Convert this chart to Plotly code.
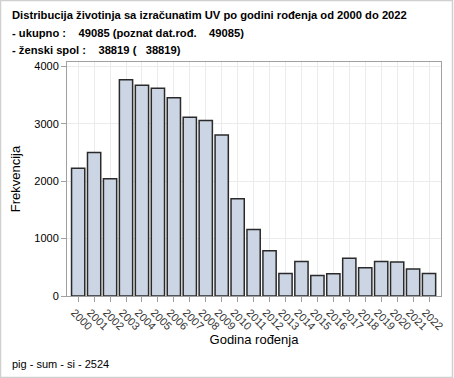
import plotly.graph_objects as go

years = [str(y) for y in range(2000, 2023)]
counts = [2224, 2500, 2042, 3768, 3674, 3621, 3456, 3116, 3058, 2805,
          1696, 1157, 787, 393, 599, 357, 387, 657, 493, 599, 593, 470, 393]

title_lines = [
    "Distribucija životinja sa izračunatim UV po godini rođenja od 2000 do 2022",
    "- ukupno :\u00a0\u00a0\u00a0\u00a049085 (poznat dat.rođ.\u00a0\u00a0\u00a0\u00a049085)",
    "- ženski spol :\u00a0\u00a0\u00a0\u00a038819 (\u00a0\u00a0\u00a038819)",
]
footnote = "pig - sum - si - 2524"
x_title = "Godina rođenja"
y_title = "Frekvencija"

FONT = "Arial, Liberation Sans, sans-serif"
W, H = 454, 378
L, R, T, B = 67, 13, 62, 82
pw, ph = W - L - R, H - T - B

fig = go.Figure()
fig.add_trace(go.Bar(
    x=years, y=counts,
    marker=dict(color="#cbd5e4", line=dict(color="#2a2a2a", width=1.5)),
    hoverinfo="x+y",
))

def px_x(px):
    return (px - L) / pw

def px_y(py):
    return (H - B - py) / ph

annotations = []
for i, line in enumerate(title_lines):
    annotations.append(dict(
        text="<b>" + line + "</b>", xref="paper", yref="paper",
        x=px_x(10), y=px_y(7 + 17.7 * i), xanchor="left", yanchor="top",
        showarrow=False, font=dict(family=FONT, size=11.2, color="#000000"),
    ))
annotations.append(dict(
    text=footnote, xref="paper", yref="paper",
    x=px_x(10), y=px_y(356), xanchor="left", yanchor="top",
    showarrow=False, font=dict(family=FONT, size=11, color="#000000"),
))

shapes = [dict(
    type="rect", xref="paper", yref="paper",
    x0=px_x(0.5), x1=px_x(W - 1.5), y0=px_y(H - 0.5), y1=px_y(0.5),
    line=dict(color="#d0d0d0", width=1.5), layer="below",
)]

fig.update_layout(
    width=W, height=H,
    margin=dict(l=L, r=R, t=T, b=B, pad=0, autoexpand=False),
    paper_bgcolor="white", plot_bgcolor="white",
    bargap=0.17,
    showlegend=False,
    annotations=annotations,
    shapes=shapes,
    font=dict(family=FONT, size=12, color="#000000"),
    xaxis=dict(
        type="category", range=[-0.7, 22.75], automargin=False,
        tickangle=45, ticks="outside", ticklen=5, tickcolor="#a0a0a0",
        tickfont=dict(family=FONT, size=11, color="#333333"),
        ticklabelshift=-4,
        showgrid=True, gridcolor="#ebebeb", gridwidth=1,
        showline=True, linecolor="#a0a0a0", linewidth=1, mirror=True,
        title=dict(text=x_title, font=dict(family=FONT, size=13, color="#000000"), standoff=2),
        fixedrange=True,
    ),
    yaxis=dict(
        range=[0, 4077], tickvals=[0, 1000, 2000, 3000, 4000], automargin=False,
        ticks="outside", ticklen=5, tickcolor="#a0a0a0",
        tickfont=dict(family=FONT, size=11, color="#000000"),
        showgrid=True, gridcolor="#ebebeb", gridwidth=1, zeroline=False,
        showline=True, linecolor="#a0a0a0", linewidth=1, mirror=True,
        title=dict(text=y_title, font=dict(family=FONT, size=13, color="#000000"), standoff=10),
        fixedrange=True,
    ),
)

fig.write_html(
    "out.html",
    config={"displayModeBar": False},
    post_script="document.body.style.margin='0';document.body.style.overflow='hidden';",
)
